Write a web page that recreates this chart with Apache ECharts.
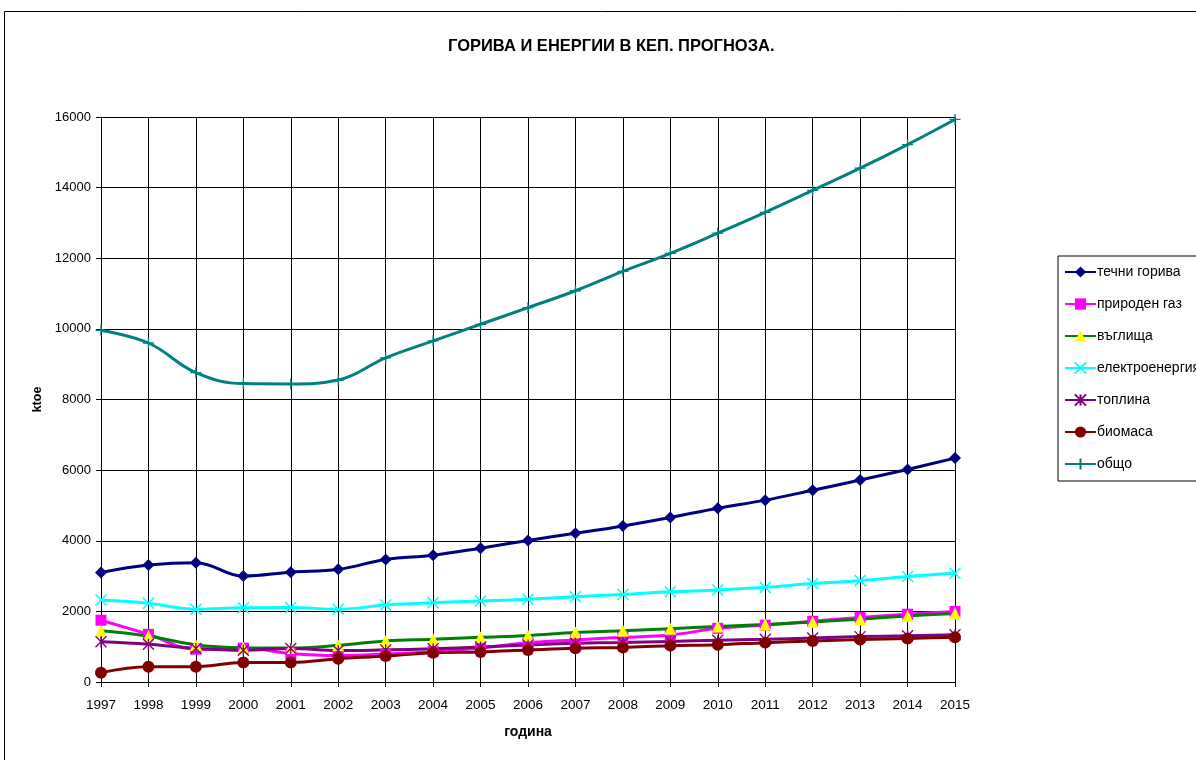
<!DOCTYPE html>
<html><head><meta charset="utf-8">
<script src="https://cdn.jsdelivr.net/npm/echarts@6/dist/echarts.min.js"></script>
<style>html,body{margin:0;padding:0;background:#fff}#c{width:1196px;height:760px}</style>
</head><body><div id="c"></div>
<script>
const years = ['1997','1998','1999','2000','2001','2002','2003','2004','2005','2006','2007','2008','2009','2010','2011','2012','2013','2014','2015'];
const yTicks = [0,2000,4000,6000,8000,10000,12000,14000,16000];
const oil   = [3100,3310,3380,3000,3110,3190,3470,3590,3790,4010,4210,4420,4660,4920,5150,5430,5720,6020,6340];
const gas   = [1750,1350,930,960,810,750,790,860,960,1110,1190,1265,1330,1520,1610,1720,1830,1920,2000];
const coal  = [1450,1300,1050,970,960,1040,1160,1210,1265,1320,1400,1450,1510,1570,1630,1700,1780,1870,1940];
const elec  = [2320,2230,2060,2100,2110,2060,2180,2245,2295,2345,2415,2480,2555,2605,2680,2790,2870,2990,3080];
const heat  = [1140,1070,950,900,950,890,910,940,990,1050,1095,1120,1150,1180,1210,1245,1285,1310,1340];
const bio   = [265,435,435,555,555,660,735,830,850,905,955,980,1030,1055,1115,1160,1200,1235,1265];
const total = [9960,9600,8760,8450,8440,8550,9180,9660,10130,10600,11080,11630,12140,12710,13300,13920,14550,15220,15930];
const names = ['течни горива','природен газ','въглища','електроенергия','топлина','биомаса','общо'];

const FONT = '"Liberation Sans", Arial, sans-serif';
const X = 'path://M0,0L10,10M10,0L0,10';
const AST = 'path://M0,0L10,10M10,0L0,10M5,0L5,10';
const PLUS = 'path://M5,0L5,10M0,5L10,5';

function mk(name, data, lineColor, symbol, fill, stroke, size, bw) {
  return {
    name, type: 'line', data, smooth: 0.4,
    symbol, symbolSize: size, showAllSymbol: true,
    lineStyle: { color: lineColor, width: 3 },
    itemStyle: { color: fill, borderColor: stroke, borderWidth: bw },
    emphasis: { disabled: true }
  };
}

const chart = echarts.init(document.getElementById('c'), null, { renderer: 'canvas' });
chart.setOption({
  animation: false,
  backgroundColor: '#fff',
  textStyle: { fontFamily: FONT },
  title: {
    text: 'ГОРИВА И ЕНЕРГИИ В КЕП. ПРОГНОЗА.',
    left: 443, top: 33,
    textStyle: { fontFamily: FONT, fontSize: 16.5, fontWeight: 'bold', color: '#000' }
  },
  graphic: [{
    type: 'rect', silent: true, z: -1,
    shape: { x: 4.5, y: 11.5, width: 1400, height: 900 },
    style: { fill: 'none', stroke: '#000', lineWidth: 1 }
  }],
  legend: {
    orient: 'vertical', left: 1058, top: 256,
    padding: [9, 8, 10, 6], itemGap: 18, itemWidth: 31, itemHeight: 14,
    borderColor: '#000', borderWidth: 1, backgroundColor: '#fff',
    textStyle: { fontFamily: FONT, fontSize: 14, color: '#000', padding: [0,0,0,-4] },
    data: names
  },
  grid: { left: 101, right: 241, top: 117, bottom: 78, containLabel: false },
  xAxis: {
    type: 'category', data: years, boundaryGap: false,
    name: 'година', nameLocation: 'middle', nameGap: 43,
    nameTextStyle: { fontFamily: FONT, fontSize: 14, fontWeight: 'bold', color: '#000' },
    axisLine: { lineStyle: { color: '#000', width: 1 } },
    axisTick: { show: true, length: 5, alignWithLabel: true, lineStyle: { color: '#000' } },
    axisLabel: { fontFamily: FONT, fontSize: 13.5, color: '#000', margin: 16, interval: 0 },
    splitLine: { show: true, lineStyle: { color: '#000', width: 1 } }
  },
  yAxis: {
    type: 'value', min: 0, max: 16000, interval: 2000,
    name: 'ktoe', nameLocation: 'middle', nameGap: 54, nameRotate: 90,
    nameTextStyle: { fontFamily: FONT, fontSize: 12.5, fontWeight: 'bold', color: '#000' },
    axisLine: { show: true, lineStyle: { color: '#000', width: 1 } },
    axisTick: { show: true, length: 5, lineStyle: { color: '#000' } },
    axisLabel: { fontFamily: FONT, fontSize: 13, color: '#000', margin: 10,
      formatter: v => yTicks.includes(v) ? String(v) : '' },
    splitLine: { show: true, lineStyle: { color: '#000', width: 1 } }
  },
  series: [
    mk(names[0], oil, '#000080', 'diamond', '#000080', '#000080', 12, 0),
    mk(names[1], gas, '#FF00FF', 'rect', '#FF00FF', '#FF00FF', 11, 0),
    mk(names[2], coal, '#008000', 'triangle', '#FFFF00', '#FFFF00', 12, 0),
    mk(names[3], elec, '#00FFFF', X, '#00FFFF', '#00FFFF', 11, 1.5),
    mk(names[4], heat, '#800080', AST, '#800080', '#800080', 11, 1.3),
    mk(names[5], bio, '#800000', 'circle', '#800000', '#800000', 12, 0),
    mk(names[6], total, '#008080', PLUS, '#008080', '#008080', 11, 1.3)
  ]
});
</script></body></html>
